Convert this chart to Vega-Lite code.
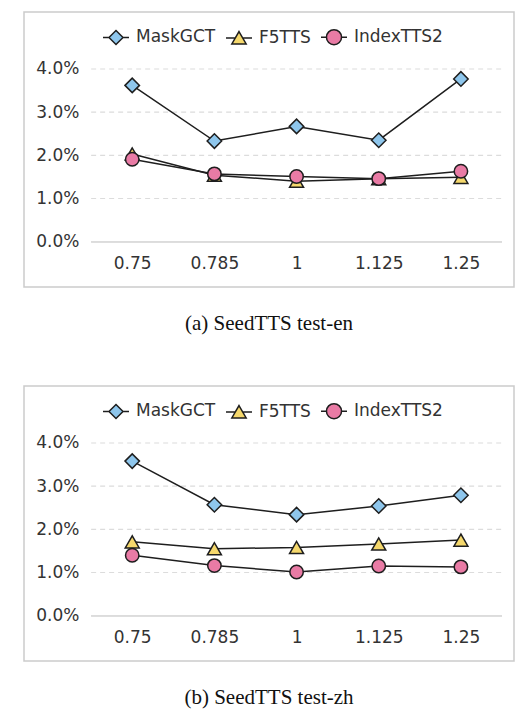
{
  "$schema": "https://vega.github.io/schema/vega-lite/v6.json",
  "padding": {"left": 23, "top": 11, "right": 5, "bottom": 5},
  "background": "white",
  "datasets": {
    "en": [
      {"model": "MaskGCT", "i": 0, "speed": "0.75", "wer": 3.62},
      {"model": "MaskGCT", "i": 1, "speed": "0.785", "wer": 2.33},
      {"model": "MaskGCT", "i": 2, "speed": "1", "wer": 2.67},
      {"model": "MaskGCT", "i": 3, "speed": "1.125", "wer": 2.35},
      {"model": "MaskGCT", "i": 4, "speed": "1.25", "wer": 3.77},
      {"model": "F5TTS", "i": 0, "speed": "0.75", "wer": 2.03},
      {"model": "F5TTS", "i": 1, "speed": "0.785", "wer": 1.54},
      {"model": "F5TTS", "i": 2, "speed": "1", "wer": 1.4},
      {"model": "F5TTS", "i": 3, "speed": "1.125", "wer": 1.46},
      {"model": "F5TTS", "i": 4, "speed": "1.25", "wer": 1.49},
      {"model": "IndexTTS2", "i": 0, "speed": "0.75", "wer": 1.91},
      {"model": "IndexTTS2", "i": 1, "speed": "0.785", "wer": 1.57},
      {"model": "IndexTTS2", "i": 2, "speed": "1", "wer": 1.51},
      {"model": "IndexTTS2", "i": 3, "speed": "1.125", "wer": 1.46},
      {"model": "IndexTTS2", "i": 4, "speed": "1.25", "wer": 1.63}
    ],
    "zh": [
      {"model": "MaskGCT", "i": 0, "speed": "0.75", "wer": 3.58},
      {"model": "MaskGCT", "i": 1, "speed": "0.785", "wer": 2.57},
      {"model": "MaskGCT", "i": 2, "speed": "1", "wer": 2.34},
      {"model": "MaskGCT", "i": 3, "speed": "1.125", "wer": 2.54},
      {"model": "MaskGCT", "i": 4, "speed": "1.25", "wer": 2.79},
      {"model": "F5TTS", "i": 0, "speed": "0.75", "wer": 1.71},
      {"model": "F5TTS", "i": 1, "speed": "0.785", "wer": 1.55},
      {"model": "F5TTS", "i": 2, "speed": "1", "wer": 1.58},
      {"model": "F5TTS", "i": 3, "speed": "1.125", "wer": 1.66},
      {"model": "F5TTS", "i": 4, "speed": "1.25", "wer": 1.75},
      {"model": "IndexTTS2", "i": 0, "speed": "0.75", "wer": 1.4},
      {"model": "IndexTTS2", "i": 1, "speed": "0.785", "wer": 1.16},
      {"model": "IndexTTS2", "i": 2, "speed": "1", "wer": 1.01},
      {"model": "IndexTTS2", "i": 3, "speed": "1.125", "wer": 1.15},
      {"model": "IndexTTS2", "i": 4, "speed": "1.25", "wer": 1.13}
    ],
    "grid": [{"v": 1}, {"v": 2}, {"v": 3}, {"v": 4}]
  },
  "vconcat": [
    {
      "width": 490,
      "height": 275,
      "title": {"text": "(a) SeedTTS test-en"},
      "layer": [
        {
          "data": {"name": "grid"},
          "mark": {"type": "rule", "color": "#dcdcdc", "strokeWidth": 1.2, "strokeDash": [5, 4]},
          "encoding": {
            "y": {"field": "v", "type": "quantitative", "scale": {"domain": [-1.05, 5.32], "nice": false, "zero": false}, "axis": {"values": [0, 1, 2, 3, 4], "labelExpr": "format(datum.value, '.1f') + '%'"}},
            "x": {"datum": -0.5, "type": "quantitative", "scale": {"domain": [-1.317, 4.646], "nice": false, "zero": false}, "axis": {"values": [0, 1, 2, 3, 4], "labelExpr": "['0.75','0.785','1','1.125','1.25'][datum.value]"}},
            "x2": {"datum": 4.5}
          }
        },
        {
          "data": {"name": "grid"},
          "mark": {"type": "rule", "color": "#dcdcdc", "strokeWidth": 1.5},
          "encoding": {
            "y": {"datum": 0, "type": "quantitative"},
            "x": {"datum": -0.5, "type": "quantitative"},
            "x2": {"datum": 4.5}
          }
        },
        {
          "data": {"name": "en"},
          "mark": {"type": "line", "color": "#1e1e1e", "strokeWidth": 1.5},
          "encoding": {
            "x": {"field": "i", "type": "quantitative"},
            "y": {"field": "wer", "type": "quantitative"},
            "detail": {"field": "model"}
          }
        },
        {
          "data": {"name": "en"},
          "mark": {"type": "point", "filled": true, "opacity": 1, "stroke": "#1e1e1e", "strokeWidth": 1.5},
          "encoding": {
            "x": {"field": "i", "type": "quantitative"},
            "y": {"field": "wer", "type": "quantitative"},
            "fill": {"field": "model", "type": "nominal", "sort": null, "scale": {"domain": ["MaskGCT", "F5TTS", "IndexTTS2"], "range": ["#8ec6ec", "#f5d86c", "#e97ba5"]},
              "legend": {"encode": {"symbols": {"update": {"shape": {"signal": "datum.value === 'MaskGCT' ? 'M-1,0H-0.54M0.54,0H1M0,-0.54L0.54,0L0,0.54L-0.54,0Z' : datum.value === 'F5TTS' ? 'M-1,0H-0.29M0.29,0H1M0,-0.5L0.55,0.45L-0.55,0.45Z' : 'M-1,0H-0.58M0.58,0H1M0.58,0A0.58,0.58 0 1,1 -0.58,0A0.58,0.58 0 1,1 0.58,0Z'"}}}}}},
            "shape": {"field": "model", "type": "nominal", "sort": null, "legend": null, "scale": {"domain": ["MaskGCT", "F5TTS", "IndexTTS2"], "range": ["diamond", "triangle-up", "circle"]}},
            "size": {"field": "model", "type": "nominal", "legend": null, "scale": {"domain": ["MaskGCT", "F5TTS", "IndexTTS2"], "range": [210, 180, 190]}}
          }
        }
      ]
    },
    {
      "width": 490,
      "height": 275,
      "title": {"text": "(b) SeedTTS test-zh"},
      "layer": [
        {
          "data": {"name": "grid"},
          "mark": {"type": "rule", "color": "#dcdcdc", "strokeWidth": 1.2, "strokeDash": [5, 4]},
          "encoding": {
            "y": {"field": "v", "type": "quantitative", "scale": {"domain": [-1.05, 5.32], "nice": false, "zero": false}, "axis": {"values": [0, 1, 2, 3, 4], "labelExpr": "format(datum.value, '.1f') + '%'"}},
            "x": {"datum": -0.5, "type": "quantitative", "scale": {"domain": [-1.317, 4.646], "nice": false, "zero": false}, "axis": {"values": [0, 1, 2, 3, 4], "labelExpr": "['0.75','0.785','1','1.125','1.25'][datum.value]"}},
            "x2": {"datum": 4.5}
          }
        },
        {
          "data": {"name": "grid"},
          "mark": {"type": "rule", "color": "#dcdcdc", "strokeWidth": 1.5},
          "encoding": {
            "y": {"datum": 0, "type": "quantitative"},
            "x": {"datum": -0.5, "type": "quantitative"},
            "x2": {"datum": 4.5}
          }
        },
        {
          "data": {"name": "zh"},
          "mark": {"type": "line", "color": "#1e1e1e", "strokeWidth": 1.5},
          "encoding": {
            "x": {"field": "i", "type": "quantitative"},
            "y": {"field": "wer", "type": "quantitative"},
            "detail": {"field": "model"}
          }
        },
        {
          "data": {"name": "zh"},
          "mark": {"type": "point", "filled": true, "opacity": 1, "stroke": "#1e1e1e", "strokeWidth": 1.5},
          "encoding": {
            "x": {"field": "i", "type": "quantitative"},
            "y": {"field": "wer", "type": "quantitative"},
            "fill": {"field": "model", "type": "nominal", "sort": null, "scale": {"domain": ["MaskGCT", "F5TTS", "IndexTTS2"], "range": ["#8ec6ec", "#f5d86c", "#e97ba5"]},
              "legend": {"encode": {"symbols": {"update": {"shape": {"signal": "datum.value === 'MaskGCT' ? 'M-1,0H-0.54M0.54,0H1M0,-0.54L0.54,0L0,0.54L-0.54,0Z' : datum.value === 'F5TTS' ? 'M-1,0H-0.29M0.29,0H1M0,-0.5L0.55,0.45L-0.55,0.45Z' : 'M-1,0H-0.58M0.58,0H1M0.58,0A0.58,0.58 0 1,1 -0.58,0A0.58,0.58 0 1,1 0.58,0Z'"}}}}}},
            "shape": {"field": "model", "type": "nominal", "sort": null, "legend": null, "scale": {"domain": ["MaskGCT", "F5TTS", "IndexTTS2"], "range": ["diamond", "triangle-up", "circle"]}},
            "size": {"field": "model", "type": "nominal", "legend": null, "scale": {"domain": ["MaskGCT", "F5TTS", "IndexTTS2"], "range": [210, 180, 190]}}
          }
        }
      ]
    }
  ],
  "spacing": 50,
  "resolve": {
    "scale": {"x": "independent", "y": "independent"},
    "legend": {"fill": "independent"}
  },
  "config": {
    "view": {"stroke": "#cbcbcb", "strokeWidth": 1.5},
    "title": {"orient": "bottom", "anchor": "middle", "font": "Liberation Serif", "fontSize": 21, "fontWeight": "normal", "color": "#111", "offset": 26},
    "axisX": {"orient": "bottom", "offset": -32, "domain": false, "ticks": false, "tickSize": 0, "grid": false, "labelPadding": 0, "title": null, "labelFont": "DejaVu Sans", "labelFontSize": 17, "labelColor": "#333", "labelFlush": false, "labelOverlap": false},
    "axisY": {"orient": "left", "offset": -60, "domain": false, "ticks": false, "tickSize": 0, "grid": false, "labelPadding": 5, "title": null, "labelFont": "DejaVu Sans", "labelFontSize": 17, "labelColor": "#333", "labelFlush": false, "labelOverlap": false},
    "legend": {
      "orient": "none",
      "legendX": 78,
      "legendY": 11,
      "direction": "horizontal",
      "title": null,
      "symbolSize": 676,
      "symbolStrokeColor": "#1e1e1e",
      "symbolStrokeWidth": 1.5,
      "symbolOpacity": 1,
      "labelFont": "DejaVu Sans",
      "labelFontSize": 17,
      "labelColor": "#333",
      "labelOffset": 6,
      "columnPadding": 7,
      "labelLimit": 200
    }
  }
}
